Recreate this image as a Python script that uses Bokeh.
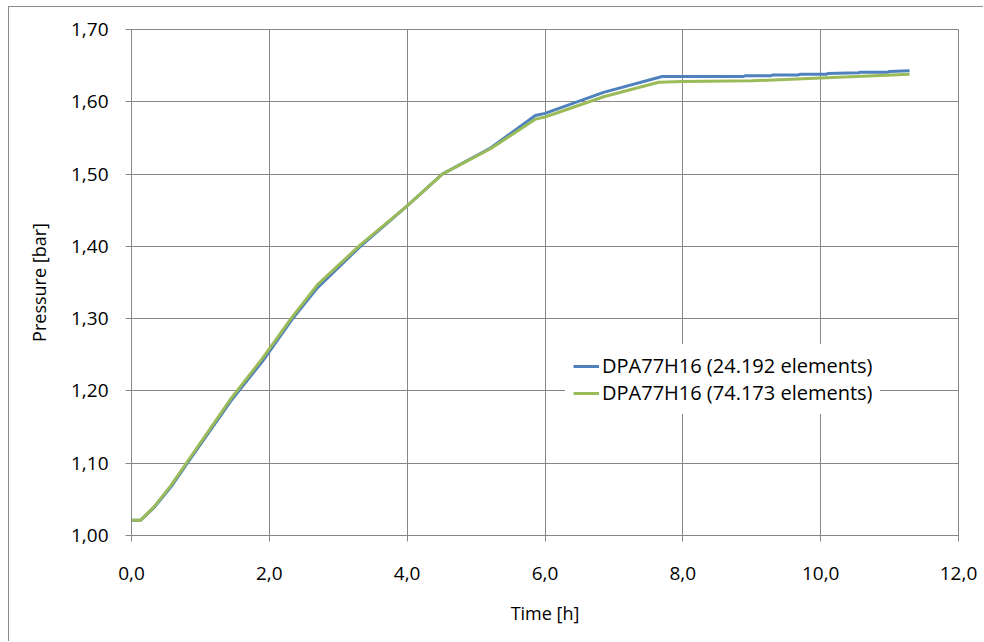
from bokeh.plotting import figure
from bokeh.models import Legend, LegendItem, CustomJSTickFormatter, FixedTicker, Range1d
from bokeh.embed import file_html
from bokeh.resources import INLINE

# ---- data ----
blue_t = [0.0, 0.13, 0.33, 0.57, 0.81, 1.44, 1.9, 2.33, 2.7, 3.32, 4.0, 4.51, 5.21, 5.86, 6.0,
          6.85, 7.7, 8.0, 8.88, 8.9, 9.28, 9.3, 9.67, 9.7, 10.09, 10.1, 10.55, 10.57, 10.98, 11.0, 11.29]
blue_p = [1.021, 1.021, 1.039, 1.067, 1.100, 1.186, 1.241, 1.299, 1.343, 1.400, 1.456, 1.500, 1.536, 1.581, 1.584,
          1.613, 1.635, 1.635, 1.635, 1.636, 1.636, 1.637, 1.637, 1.638, 1.638, 1.639, 1.640, 1.641, 1.641, 1.642, 1.643]

green_t = [0.0, 0.13, 0.33, 0.57, 0.81, 1.44, 1.9, 2.33, 2.7, 3.32, 4.0, 4.51, 5.21, 5.86, 6.0,
           6.85, 7.65, 8.0, 9.0, 10.0, 11.29]
green_p = [1.021, 1.021, 1.040, 1.069, 1.102, 1.189, 1.245, 1.302, 1.347, 1.402, 1.456, 1.500, 1.535, 1.576, 1.579,
           1.607, 1.627, 1.628, 1.629, 1.633, 1.638]

series_labels = ["DPA77H16 (24.192 elements)", "DPA77H16 (74.173 elements)"]
x_ticks = [0, 2, 4, 6, 8, 10, 12]
y_ticks = [1.0, 1.1, 1.2, 1.3, 1.4, 1.5, 1.6, 1.7]

FONT = "Open Sans"
GRID = "#868686"
BLUE = "#4F81BD"
GREEN = "#9BBB59"

p = figure(width=975, height=635, output_backend="svg", toolbar_location=None,
           x_range=Range1d(0, 12), y_range=Range1d(1.0, 1.7),
           min_border_left=122, min_border_right=26, min_border_top=22, min_border_bottom=107)
p.styles = {"border-left": "1px solid #8c8c8c", "border-top": "1px solid #8c8c8c",
            "margin-left": "8px", "margin-top": "6px"}

p.outline_line_color = GRID
p.background_fill_color = "white"
p.border_fill_color = "white"

for ax in (p.xaxis[0], p.yaxis[0]):
    ax.axis_line_color = GRID
    ax.major_tick_line_color = GRID
    ax.minor_tick_line_color = None
    ax.major_tick_in = 0
    ax.major_tick_out = 6
    ax.major_label_text_font = FONT
    ax.major_label_text_font_size = "19px"
    ax.major_label_text_color = "black"
    ax.axis_label_text_font = FONT
    ax.axis_label_text_font_size = "18px"
    ax.axis_label_text_font_style = "normal"
    ax.axis_label_text_color = "black"

p.xaxis.ticker = FixedTicker(ticks=x_ticks)
p.yaxis.ticker = FixedTicker(ticks=y_ticks)
p.xaxis.formatter = CustomJSTickFormatter(code="return tick.toFixed(1).replace('.', ',');")
p.yaxis.formatter = CustomJSTickFormatter(code="return tick.toFixed(2).replace('.', ',');")
p.xaxis.axis_label = "Time [h]"
p.yaxis.axis_label = "Pressure [bar]"
p.xaxis.major_label_standoff = 25
p.yaxis.major_label_standoff = 17
p.xaxis.axis_label_standoff = 18
p.yaxis.axis_label_standoff = 17

p.xgrid.grid_line_color = GRID
p.ygrid.grid_line_color = GRID

r1 = p.line(blue_t, blue_p, line_color=BLUE, line_width=3)
r2 = p.line(green_t, green_p, line_color=GREEN, line_width=3)

legend = Legend(items=[LegendItem(label=series_labels[0], renderers=[r1]),
                       LegendItem(label=series_labels[1], renderers=[r2])],
                location=(434, 121))
legend.label_text_font = FONT
legend.label_text_font_size = "20px"
legend.label_text_color = "black"
legend.glyph_width = 26
legend.glyph_height = 20
legend.label_height = 20
legend.label_standoff = 3
legend.spacing = 0
legend.padding = 8
legend.margin = 0
legend.border_line_alpha = 0
legend.background_fill_color = "white"
legend.background_fill_alpha = 1.0
p.add_layout(legend, "center")

open("out.html", "w").write(file_html(p, INLINE))
